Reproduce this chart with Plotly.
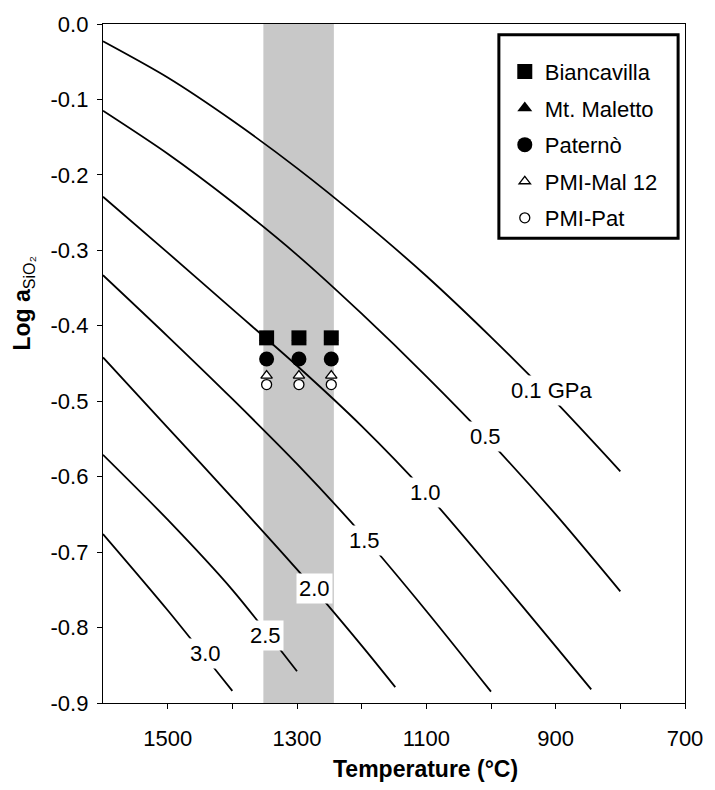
import plotly.graph_objects as go

# ---------------- data ----------------
# isobars: temperature (°C) vs log aSiO2
iso_01_T = [1600, 1500, 1400, 1300, 1200, 1100, 1000, 900, 800]
iso_01_v = [-0.023, -0.071, -0.128, -0.191, -0.260, -0.334, -0.415, -0.501, -0.593]
iso_05_T = [1600, 1500, 1400, 1300, 1200, 1100, 1000, 900, 800]
iso_05_v = [-0.115, -0.172, -0.236, -0.306, -0.384, -0.467, -0.555, -0.650, -0.752]
iso_10_T = [1600, 1500, 1400, 1300, 1200, 1100, 1000, 900, 845]
iso_10_v = [-0.229, -0.303, -0.378, -0.453, -0.533, -0.622, -0.722, -0.825, -0.882]
iso_15_T = [1600, 1500, 1400, 1300, 1200, 1100, 1000]
iso_15_v = [-0.333, -0.414, -0.497, -0.583, -0.676, -0.778, -0.885]
iso_20_T = [1600, 1500, 1400, 1300, 1200, 1148]
iso_20_v = [-0.442, -0.535, -0.628, -0.723, -0.824, -0.879]
iso_25_T = [1600, 1500, 1400, 1300]
iso_25_v = [-0.571, -0.657, -0.750, -0.858]
iso_30_T = [1600, 1500, 1400]
iso_30_v = [-0.676, -0.777, -0.884]

curve_labels = ["0.1 GPa", "0.5", "1.0", "1.5", "2.0", "2.5", "3.0"]
label_T = [906, 1008, 1101, 1195, 1273, 1348, 1442]
label_v = [-0.486, -0.547, -0.621, -0.685, -0.748, -0.811, -0.835]

# samples
sample_T = [1347, 1297, 1247]
biancavilla = [-0.416, -0.416, -0.416]
mt_maletto = [-0.416, -0.416, -0.416]
paterno = [-0.444, -0.444, -0.444]
pmi_mal12 = [-0.466, -0.466, -0.466]
pmi_pat = [-0.478, -0.478, -0.478]

# shaded temperature band
band_T = [1352, 1243]

x_tickvals = [1500, 1300, 1100, 900, 700]
x_ticktext = ["1500", "1300", "1100", "900", "700"]
x_minor_ticks = [1400, 1200, 1000, 800]
y_tickvals = [0.0, -0.1, -0.2, -0.3, -0.4, -0.5, -0.6, -0.7, -0.8, -0.9]
y_ticktext = ["0.0", "-0.1", "-0.2", "-0.3", "-0.4", "-0.5", "-0.6", "-0.7", "-0.8", "-0.9"]

# ---------------- figure ----------------
W, H = 715, 790
L, R, T, B = 103, 21, 15, 87
PW, PH = W - L - R, H - T - B


def px_x(px):
    return (px - L) / PW


def px_y(py):
    return (H - B - py) / PH


FONT = "Liberation Sans, Arial, sans-serif"
fig = go.Figure()

curves = [(iso_01_T, iso_01_v), (iso_05_T, iso_05_v), (iso_10_T, iso_10_v),
          (iso_15_T, iso_15_v), (iso_20_T, iso_20_v), (iso_25_T, iso_25_v),
          (iso_30_T, iso_30_v)]
for cx, cy in curves:
    fig.add_trace(go.Scatter(x=cx, y=cy, mode="lines",
                             line=dict(color="black", width=1.8, shape="spline", smoothing=0.8),
                             showlegend=False, hoverinfo="skip"))


def add_pts(name, vals, symbol, size, fill, rank):
    fig.add_trace(go.Scatter(
        x=sample_T, y=vals, mode="markers", name=name,
        legendgroup=name, legendrank=rank,
        marker=dict(symbol=symbol, size=size, color=fill,
                    line=dict(color="black", width=1.3 if fill == "white" else 0))))


add_pts("Mt. Maletto", mt_maletto, "triangle-up", 13, "black", 2)
add_pts("Biancavilla", biancavilla, "square", 15, "black", 1)
add_pts("Paternò", paterno, "circle", 15, "black", 3)
add_pts("PMI-Mal 12", pmi_mal12, "triangle-up", 10, "white", 4)
add_pts("PMI-Pat", pmi_pat, "circle", 10, "white", 5)

shapes = [
    dict(type="rect", xref="x", yref="paper", x0=band_T[0], x1=band_T[1], y0=0, y1=1,
         fillcolor="#c8c8c8", line=dict(width=0), layer="below"),
    dict(type="rect", xref="paper", yref="paper", x0=px_x(505), x1=px_x(687),
         y0=px_y(232), y1=px_y(26), fillcolor="white",
         line=dict(color="black", width=3), layer="above"),
]

annotations = []
for t, v, txt in zip(label_T, label_v, curve_labels):
    annotations.append(dict(x=t, y=v, xref="x", yref="y", text=txt, showarrow=False,
                            font=dict(family=FONT, size=22, color="black"),
                            bgcolor="white", borderpad=2, xanchor="center", yanchor="middle"))
annotations.append(dict(x=px_x(430), y=px_y(770), xref="paper", yref="paper",
                        text="<b>Temperature (°C)</b>", showarrow=False,
                        font=dict(family=FONT, size=23, color="black"),
                        xanchor="center", yanchor="middle"))
annotations.append(dict(x=px_x(22), y=px_y(298), xref="paper", yref="paper",
                        text="<b>Log a</b><sub>SiO₂</sub>", showarrow=False, textangle=-90,
                        font=dict(family=FONT, size=23, color="black"),
                        xanchor="center", yanchor="middle"))

axis_common = dict(showline=True, linecolor="black", linewidth=1.3, mirror=True,
                   ticks="outside", ticklen=5, tickwidth=1.2, tickcolor="black",
                   showgrid=False, zeroline=False,
                   tickfont=dict(family=FONT, size=22, color="black"))

fig.update_layout(
    width=W, height=H, autosize=False,
    margin=dict(l=L, r=R, t=T, b=B, pad=0),
    plot_bgcolor="white", paper_bgcolor="white",
    xaxis=dict(range=[1600, 700], tickmode="array", tickvals=x_tickvals,
               ticktext=x_ticktext, ticklabelstandoff=10,
               minor=dict(tickmode="array", tickvals=x_minor_ticks, ticks="outside",
                          ticklen=5, tickwidth=1.2, tickcolor="black", showgrid=False),
               **axis_common),
    yaxis=dict(range=[-0.9, 0.0], tickmode="array", tickvals=y_tickvals,
               ticktext=y_ticktext, ticklabelstandoff=4, **axis_common),
    shapes=shapes,
    annotations=annotations,
    showlegend=True,
    legend=dict(x=px_x(511), y=px_y(42), xanchor="left", yanchor="top",
                bgcolor="rgba(0,0,0,0)", borderwidth=0,
                font=dict(family=FONT, size=22, color="black"),
                traceorder="grouped", tracegroupgap=5, itemsizing="trace"),
)

fig.write_html("out.html")
